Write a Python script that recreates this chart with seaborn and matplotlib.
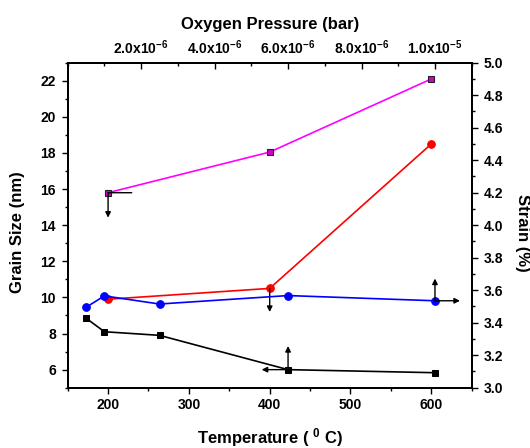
import matplotlib
matplotlib.use("Agg")
import matplotlib.pyplot as plt
import seaborn as sns
from matplotlib.ticker import MultipleLocator, FixedLocator, FixedFormatter

# ---- data ----
temperature = [200, 400, 600]                  # deg C (bottom axis)
grain_vs_temp = [9.9, 10.5, 18.5]              # nm (left axis), red
strain_vs_temp = [4.20, 4.45, 4.90]            # % (right axis), magenta

pressure = [0.5e-6, 1.0e-6, 2.5e-6, 6.0e-6, 1.0e-5]   # bar (top axis)
grain_vs_press = [8.85, 8.10, 7.90, 6.00, 5.83]        # nm (left axis), black
strain_vs_press = [3.495, 3.565, 3.515, 3.567, 3.535]  # % (right axis), blue

temp_ticks = [200, 300, 400, 500, 600]
press_ticks = [2e-6, 4e-6, 6e-6, 8e-6, 1e-5]
press_tick_labels = [r"2.0x10$^{-6}$", r"4.0x10$^{-6}$", r"6.0x10$^{-6}$",
                     r"8.0x10$^{-6}$", r"1.0x10$^{-5}$"]

sns.set_style("ticks")
plt.rcParams["font.family"] = ["Liberation Sans", "DejaVu Sans"]
plt.rcParams["font.weight"] = "bold"
plt.rcParams["mathtext.fontset"] = "custom"
plt.rcParams["mathtext.bf"] = "Liberation Sans:bold"
plt.rcParams["mathtext.rm"] = "Liberation Sans:bold"
plt.rcParams["mathtext.default"] = "bf"
for k in ("text.color", "axes.labelcolor", "xtick.color", "ytick.color",
          "xtick.labelcolor", "ytick.labelcolor", "axes.edgecolor"):
    plt.rcParams[k] = "black"

fig = plt.figure(figsize=(5.3, 4.48), dpi=100)
ax = fig.add_axes([0.1277, 0.1346, 0.7623, 0.7254])
ax_r = ax.twinx()
ax_t = ax.twiny()
ax_tr = ax_t.twinx()

lw = 1.2
sns.lineplot(x=temperature, y=grain_vs_temp, ax=ax, color="#FF0000", marker="o",
             markersize=5.5, markeredgecolor="#FF0000", linewidth=lw)
sns.lineplot(x=temperature, y=strain_vs_temp, ax=ax_r, color="#FF00FF", marker="s",
             markersize=5, markerfacecolor="#D000D0", markeredgecolor="#222222",
             markeredgewidth=0.8, linewidth=lw)
sns.lineplot(x=pressure, y=grain_vs_press, ax=ax_t, color="black", marker="s",
             markersize=5, markeredgecolor="black", linewidth=lw)
sns.lineplot(x=pressure, y=strain_vs_press, ax=ax_tr, color="#0000FF", marker="o",
             markersize=5.5, markeredgecolor="#0000FF", linewidth=lw)

ax.set_xlim(150, 650)
ax.set_ylim(5, 23)
ax_r.set_ylim(3, 5)
ax_t.set_xlim(0, 1.1e-5)
ax_tr.set_ylim(3, 5)

# ticks
tick_kw = dict(length=4, width=1, labelsize=10, colors="black")
ax.xaxis.set_major_locator(FixedLocator(temp_ticks))
ax.xaxis.set_minor_locator(MultipleLocator(50))
ax.yaxis.set_major_locator(MultipleLocator(2))
ax.yaxis.set_minor_locator(MultipleLocator(1))
ax.tick_params(axis="both", which="major", direction="out", pad=3.5, **tick_kw)
ax.tick_params(axis="both", which="minor", direction="out", length=2.2, width=1, colors="black")
ax.tick_params(axis="y", which="major", pad=4.5)

ax_r.yaxis.set_major_locator(MultipleLocator(0.2))
ax_r.yaxis.set_minor_locator(MultipleLocator(0.1))
ax_r.yaxis.set_major_formatter(matplotlib.ticker.FormatStrFormatter("%.1f"))
ax_r.tick_params(axis="y", which="major", direction="out", pad=4.5, **tick_kw)
ax_r.tick_params(axis="y", which="minor", direction="out", length=2.2, width=1, colors="black")

ax_t.xaxis.set_major_locator(FixedLocator(press_ticks))
ax_t.xaxis.set_major_formatter(FixedFormatter(press_tick_labels))
ax_t.xaxis.set_minor_locator(MultipleLocator(1e-6))
ax_t.tick_params(axis="x", which="major", direction="in", pad=4, **tick_kw)
ax_t.tick_params(axis="x", which="minor", direction="in", length=2.2, width=1, colors="black")

ax_tr.yaxis.set_visible(False)

for a in (ax, ax_r, ax_t, ax_tr):
    for s in a.spines.values():
        s.set_linewidth(1.4)
        s.set_color("black")
    for lab in a.get_xticklabels() + a.get_yticklabels():
        lab.set_fontweight("bold")

# axis labels
lab_kw = dict(fontsize=12, fontweight="bold", color="black")
ax.set_ylabel("Grain Size (nm)", **lab_kw)
ax.yaxis.label.set_va("center")
ax.yaxis.set_label_coords(-0.123, 0.4775)

ax_r.set_ylabel("Strain (%)", rotation=270, **lab_kw)
ax_r.yaxis.label.set_va("center")
ax_r.yaxis.label.set_ha("center")
ax_r.yaxis.set_label_coords(1.1257, 0.476)

ax.set_xlabel(r"Temperature ( $^{0}$ C)", **lab_kw)
ax.xaxis.label.set_va("center")
ax.xaxis.set_label_coords(0.5, -0.152)

ax_t.set_xlabel("Oxygen Pressure (bar)", **lab_kw)
ax_t.xaxis.label.set_va("center")
ax_t.xaxis.set_label_coords(0.5, 1.1175)

# arrows indicating the axis each series belongs to
def arrow(a, x, y, dx, dy, head=True):
    a.annotate("", xy=(x, y), xycoords="data", xytext=(dx, dy),
               textcoords="offset points",
               arrowprops=dict(arrowstyle="<|-" if head else "-", color="black",
                               lw=1.0, shrinkA=0, shrinkB=0, mutation_scale=8))

arrow(ax_r, temperature[0], strain_vs_temp[0], 0, -18)
arrow(ax_r, temperature[0], strain_vs_temp[0], 17, 0, head=False)
arrow(ax, temperature[1], grain_vs_temp[1], 0, -17)
arrow(ax_t, pressure[3], grain_vs_press[3], 0, 17)
arrow(ax_t, pressure[3], grain_vs_press[3], -19, 0)
arrow(ax_tr, pressure[4], strain_vs_press[4], 0, 16)
arrow(ax_tr, pressure[4], strain_vs_press[4], 18, 0)

fig.savefig("out.png", dpi=100)
